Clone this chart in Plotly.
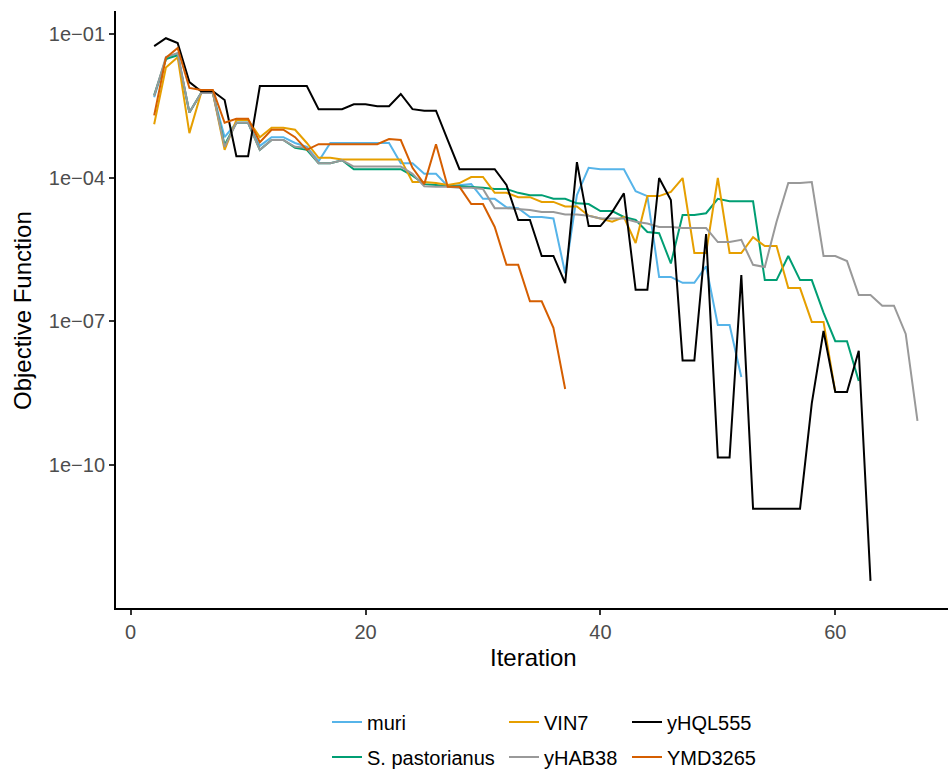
import plotly.graph_objects as go

# Objective function value per optimisation iteration, one list per strain.
# Every run starts at iteration 2.
first_iteration = 2

muri = [
    4.8e-3, 3.0e-2, 4.0e-2, 2.3e-3, 5.9e-3, 5.9e-3, 7.0e-4, 1.4e-3, 1.4e-3, 4.6e-4,
    7.0e-4, 7.0e-4, 5.3e-4, 4.4e-4, 2.2e-4, 5.3e-4, 5.3e-4, 5.3e-4, 5.3e-4, 5.3e-4,
    5.3e-4, 2.0e-4, 2.0e-4, 1.2e-4, 1.2e-4, 6.6e-5, 7.0e-5, 7.3e-5, 3.6e-5, 3.6e-5,
    2.4e-5, 2.3e-5, 1.5e-5, 1.5e-5, 1.4e-5, 1.0e-6, 4.3e-5, 1.6e-4, 1.5e-4, 1.5e-4,
    1.5e-4, 5.2e-5, 4.1e-5, 8.4e-7, 8.4e-7, 6.3e-7, 6.3e-7, 1.4e-6, 8.3e-8, 8.3e-8,
    6.8e-9,
]

s_pastorianus = [
    5.3e-3, 3.0e-2, 3.6e-2, 2.3e-3, 5.9e-3, 5.9e-3, 4.8e-4, 1.4e-3, 1.4e-3, 3.8e-4,
    6.1e-4, 6.1e-4, 4.2e-4, 3.8e-4, 2.0e-4, 2.0e-4, 2.3e-4, 1.5e-4, 1.5e-4, 1.5e-4,
    1.5e-4, 1.5e-4, 1.1e-4, 7.3e-5, 7.0e-5, 6.6e-5, 6.6e-5, 6.4e-5, 6.1e-5, 5.8e-5,
    5.8e-5, 4.8e-5, 4.3e-5, 4.3e-5, 3.6e-5, 3.6e-5, 2.9e-5, 2.8e-5, 2.0e-5, 2.0e-5,
    1.5e-5, 1.3e-5, 7.3e-6, 6.9e-6, 1.6e-6, 1.65e-5, 1.65e-5, 1.8e-5, 3.6e-5, 3.2e-5,
    3.2e-5, 3.2e-5, 7.2e-7, 7.2e-7, 2.3e-6, 7.2e-7, 7.2e-7, 1.5e-7, 3.8e-8, 3.8e-8,
    5.6e-9,
]

vin7 = [
    1.3e-3, 2.0e-2, 3.3e-2, 8.5e-4, 5.9e-3, 5.9e-3, 3.8e-4, 1.6e-3, 1.6e-3, 7.0e-4,
    1.1e-3, 1.1e-3, 1.0e-3, 5.3e-4, 2.6e-4, 2.6e-4, 2.4e-4, 2.4e-4, 2.4e-4, 2.4e-4,
    2.4e-4, 2.4e-4, 8.1e-5, 8.1e-5, 7.7e-5, 7.0e-5, 7.7e-5, 1.03e-4, 1.03e-4, 4.8e-5,
    4.8e-5, 3.9e-5, 3.9e-5, 3.1e-5, 3.1e-5, 2.5e-5, 2.5e-5, 1.6e-5, 1.4e-5, 1.2e-5,
    1.5e-5, 4.3e-6, 4.1e-5, 4.1e-5, 5.0e-5, 9.8e-5, 2.65e-6, 2.65e-6, 9.8e-5, 2.65e-6,
    2.65e-6, 5.7e-6, 3.7e-6, 3.7e-6, 4.9e-7, 4.9e-7, 9.6e-8, 9.6e-8, 3.3e-9,
]

yhab38 = [
    5.1e-3, 3.3e-2, 4.0e-2, 2.3e-3, 5.9e-3, 5.9e-3, 4.4e-4, 1.4e-3, 1.4e-3, 3.8e-4,
    6.1e-4, 6.1e-4, 4.4e-4, 4.2e-4, 2.0e-4, 2.0e-4, 2.3e-4, 1.7e-4, 1.7e-4, 1.7e-4,
    1.7e-4, 1.7e-4, 1.2e-4, 6.6e-5, 6.4e-5, 6.4e-5, 6.1e-5, 6.1e-5, 5.8e-5, 2.3e-5,
    2.3e-5, 2.2e-5, 2.1e-5, 1.9e-5, 1.9e-5, 1.7e-5, 1.7e-5, 1.6e-5, 1.4e-5, 1.4e-5,
    1.4e-5, 1.2e-5, 1.1e-5, 9.3e-6, 9.3e-6, 8.8e-6, 8.8e-6, 8.8e-6, 4.5e-6, 4.5e-6,
    5.0e-6, 1.5e-6, 1.35e-6, 1.2e-5, 7.7e-5, 7.7e-5, 8.1e-5, 2.3e-6, 2.3e-6, 1.8e-6,
    3.5e-7, 3.5e-7, 2.1e-7, 2.1e-7, 5.4e-8, 8.2e-10,
]

yhql555 = [
    5.6e-2, 8.2e-2, 6.5e-2, 9.9e-3, 6.4e-3, 6.4e-3, 4.2e-3, 2.8e-4, 2.8e-4, 8.2e-3,
    8.2e-3, 8.2e-3, 8.2e-3, 8.2e-3, 2.7e-3, 2.7e-3, 2.7e-3, 3.4e-3, 3.4e-3, 3.1e-3,
    3.1e-3, 5.6e-3, 2.7e-3, 2.5e-3, 2.5e-3, 6.1e-4, 1.5e-4, 1.5e-4, 1.5e-4, 1.5e-4,
    7.0e-5, 1.3e-5, 1.3e-5, 2.3e-6, 2.3e-6, 6.2e-7, 2.1e-4, 9.7e-6, 9.7e-6, 1.9e-5,
    4.7e-5, 4.5e-7, 4.5e-7, 9.8e-5, 3.4e-5, 1.5e-8, 1.5e-8, 6.6e-6, 1.4e-10, 1.4e-10,
    9.2e-7, 1.2e-11, 1.2e-11, 1.2e-11, 1.2e-11, 1.2e-11, 1.9e-9, 6.2e-8, 3.3e-9, 3.3e-9,
    2.4e-8, 3.7e-13,
]

ymd3265 = [
    2.0e-3, 3.2e-2, 5.1e-2, 7.5e-3, 6.8e-3, 6.8e-3, 1.4e-3, 1.7e-3, 1.7e-3, 5.5e-4,
    1.0e-3, 1.0e-3, 7.0e-4, 3.8e-4, 5.0e-4, 5.0e-4, 5.0e-4, 5.0e-4, 5.0e-4, 5.0e-4,
    6.4e-4, 6.1e-4, 1.6e-4, 7.3e-5, 5.0e-4, 6.4e-5, 6.4e-5, 2.8e-5, 2.8e-5, 9.3e-6,
    1.5e-6, 1.5e-6, 2.6e-7, 2.6e-7, 7.2e-8, 3.8e-9,
]

strain_names = ["muri", "S. pastorianus", "VIN7", "yHAB38", "yHQL555", "YMD3265"]
strain_values = [muri, s_pastorianus, vin7, yhab38, yhql555, ymd3265]
strain_colors = ["#56B4E9", "#009E73", "#E69F00", "#999999", "#000000", "#D55E00"]
# legend columns: two strains stacked per column
strain_legends = ["legend", "legend", "legend2", "legend2", "legend3", "legend3"]

x_ticks = [0, 20, 40, 60]
y_tick_values = [1e-1, 1e-4, 1e-7, 1e-10]
y_tick_labels = ["1e\u221201", "1e\u221204", "1e\u221207", "1e\u221210"]

x_title = "Iteration"
y_title = "Objective Function"

FONT = "Liberation Sans, Arial, sans-serif"

fig = go.Figure()
for name, vals, color, leg in zip(strain_names, strain_values, strain_colors, strain_legends):
    iters = list(range(first_iteration, first_iteration + len(vals)))
    fig.add_trace(go.Scatter(
        x=iters, y=vals, mode="lines", name=name,
        line=dict(color=color, width=2),
        legend=leg, legendgroup=name,
    ))

legend_common = dict(
    orientation="v", xref="container", yref="container",
    yanchor="middle", xanchor="left",
    font=dict(family=FONT, size=20, color="#000000"),
    bgcolor="rgba(0,0,0,0)", traceorder="grouped", tracegroupgap=6,
    itemwidth=30,
)
legend_y = 1 - 739.5 / 775

# plot area in pixels: left 116, top 11, bottom 608, right edge of the page
PLOT_L, PLOT_T, PLOT_B, W, H = 116, 11, 608, 948, 775

fig.update_layout(
    width=W, height=H,
    margin=dict(l=PLOT_L, r=0, t=PLOT_T, b=H - PLOT_B, autoexpand=False),
    paper_bgcolor="white", plot_bgcolor="white",
    font=dict(family=FONT),
    showlegend=True,
    legend=dict(x=327 / W, y=legend_y, **legend_common),
    legend2=dict(x=504 / W, y=legend_y, **legend_common),
    legend3=dict(x=627 / W, y=legend_y, **legend_common),
    xaxis=dict(
        range=[-1.25, 69.6], tickvals=x_ticks,
        showgrid=False, zeroline=False,
        showline=True, linecolor="#000000", linewidth=2,
        ticks="outside", ticklen=5, tickwidth=2, tickcolor="#333333",
        tickfont=dict(family=FONT, size=20, color="#4D4D4D"),
    ),
    yaxis=dict(
        type="log", range=[-12.998, -0.517],
        tickvals=y_tick_values, ticktext=y_tick_labels,
        showgrid=False, zeroline=False,
        showline=True, linecolor="#000000", linewidth=2,
        ticks="outside", ticklen=5, tickwidth=2, tickcolor="#333333",
        tickfont=dict(family=FONT, size=20, color="#4D4D4D"),
    ),
    annotations=[
        dict(text=x_title, xref="paper", yref="paper",
             x=(533 - PLOT_L) / (W - PLOT_L), y=-(657 - PLOT_B) / (PLOT_B - PLOT_T),
             xanchor="center", yanchor="middle", showarrow=False,
             font=dict(family=FONT, size=24, color="#000000")),
        dict(text=y_title, xref="paper", yref="paper",
             x=-(PLOT_L - 22) / (W - PLOT_L), y=(PLOT_B - 311) / (PLOT_B - PLOT_T),
             xanchor="center", yanchor="middle", textangle=-90, showarrow=False,
             font=dict(family=FONT, size=24, color="#000000")),
    ],
)

fig.write_html("out.html")
